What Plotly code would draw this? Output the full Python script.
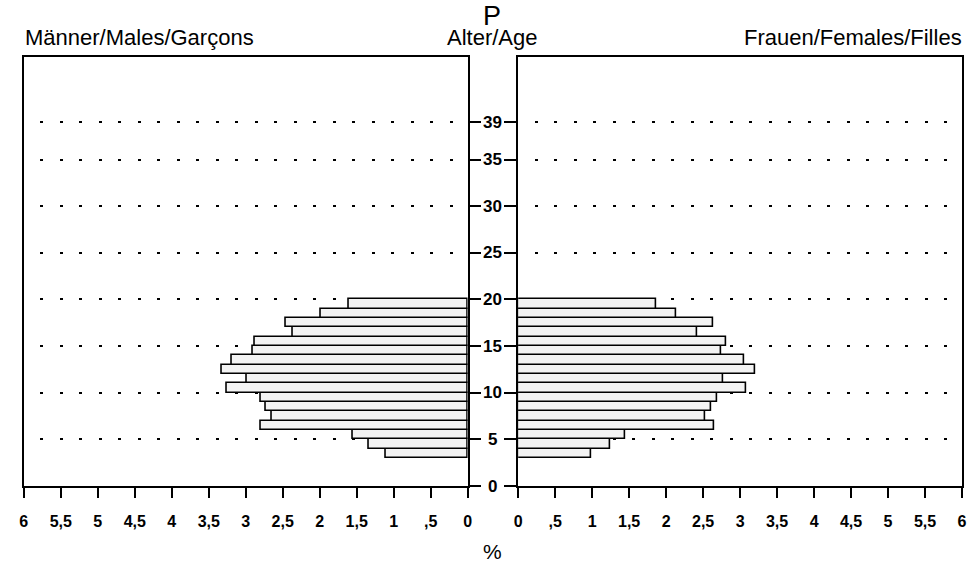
import plotly.graph_objects as go

# Age bands (lower bound of each one-year band)
ages = [3, 4, 5, 6, 7, 8, 9, 10, 11, 12, 13, 14, 15, 16, 17, 18, 19]
# Share of population in percent
males = [1.10, 1.33, 1.55, 2.80, 2.65, 2.73, 2.80, 3.26, 2.98, 3.32, 3.19, 2.90, 2.88, 2.36, 2.46, 1.98, 1.60]
females = [0.98, 1.24, 1.45, 2.65, 2.53, 2.61, 2.69, 3.08, 2.77, 3.20, 3.05, 2.75, 2.81, 2.42, 2.63, 2.14, 1.86]

x_ticks = [0, 0.5, 1, 1.5, 2, 2.5, 3, 3.5, 4, 4.5, 5, 5.5, 6]
x_tick_text = ["0", ",5", "1", "1,5", "2", "2,5", "3", "3,5", "4", "4,5", "5", "5,5", "6"]
age_ticks = [0, 5, 10, 15, 20, 25, 30, 35, 39]
age_tick_text = ["0", "5", "10", "15", "20", "25", "30", "35", "39"]

W, H = 971, 566
FONT = "Liberation Sans, Arial, Helvetica, sans-serif"
BAR_FILL = "#f3f3f3"

centers = [a + 0.5 for a in ages]

fig = go.Figure()
fig.add_trace(go.Bar(
    x=males, y=centers, orientation="h", width=1, xaxis="x", yaxis="y",
    marker=dict(color=BAR_FILL, line=dict(color="black", width=1.6)),
    hoverinfo="skip", showlegend=False,
))
fig.add_trace(go.Bar(
    x=females, y=centers, orientation="h", width=1, xaxis="x2", yaxis="y2",
    marker=dict(color=BAR_FILL, line=dict(color="black", width=1.6)),
    hoverinfo="skip", showlegend=False,
))

left_dom = [20 / W, 468 / W]
right_dom = [519 / W, 967 / W]
y_dom = [1 - 486 / H, 1 - 57 / H]
y_range = [0, 46]

xaxis_common = dict(
    tickvals=x_ticks, ticktext=x_tick_text, ticks="outside", ticklen=10,
    tickwidth=1.5, tickcolor="black", showline=True, linecolor="black",
    linewidth=1.6, mirror=True, showgrid=False, zeroline=False,
    ticklabelstandoff=10,
    tickfont=dict(family=FONT, size=16, color="black", weight="bold"),
)
yaxis_common = dict(
    range=y_range, tickvals=age_ticks, showticklabels=False, ticks="outside",
    ticklen=12, tickwidth=1.5, tickcolor="black", showline=True,
    linecolor="black", linewidth=1.6, mirror=True, showgrid=True,
    gridcolor="black", gridwidth=2, griddash="0px,16.5px,3px,0px",
    zeroline=False, domain=y_dom,
)

fig.update_layout(
    width=W, height=H,
    margin=dict(l=0, r=0, t=0, b=0),
    paper_bgcolor="white", plot_bgcolor="white",
    barmode="overlay", bargap=0,
    xaxis=dict(domain=left_dom, range=[6, 0], anchor="y", **xaxis_common),
    xaxis2=dict(domain=right_dom, range=[0, 6], anchor="y2", **xaxis_common),
    yaxis=dict(anchor="x", side="right", **yaxis_common),
    yaxis2=dict(anchor="x2", side="left", matches="y", **yaxis_common),
)

# Age labels between the two panels
for v, t in zip(age_ticks, age_tick_text):
    fig.add_annotation(
        x=493.5 / W, xref="paper", y=v, yref="y", text=t, showarrow=False,
        xanchor="center", yanchor="middle",
        font=dict(family=FONT, size=17, color="black", weight="bold"),
    )

header_font = dict(family=FONT, size=22, color="black")
fig.add_annotation(x=493 / W, y=1 - 16 / H, xref="paper", yref="paper", text="P",
                   showarrow=False, xanchor="center", yanchor="middle",
                   font=dict(family=FONT, size=27, color="black"))
fig.add_annotation(x=19 / W, y=1 - 37 / H, xref="paper", yref="paper",
                   text="Männer/Males/Garçons", showarrow=False,
                   xanchor="left", yanchor="middle", font=header_font)
fig.add_annotation(x=493 / W, y=1 - 37 / H, xref="paper", yref="paper",
                   text="Alter/Age", showarrow=False,
                   xanchor="center", yanchor="middle", font=header_font)
fig.add_annotation(x=969 / W, y=1 - 37 / H, xref="paper", yref="paper",
                   text="Frauen/Females/Filles", showarrow=False,
                   xanchor="right", yanchor="middle", font=header_font)
fig.add_annotation(x=493 / W, y=1 - 551 / H, xref="paper", yref="paper",
                   text="%", showarrow=False, xanchor="center", yanchor="middle",
                   font=dict(family=FONT, size=21, color="black"))

fig.write_html("out.html")
